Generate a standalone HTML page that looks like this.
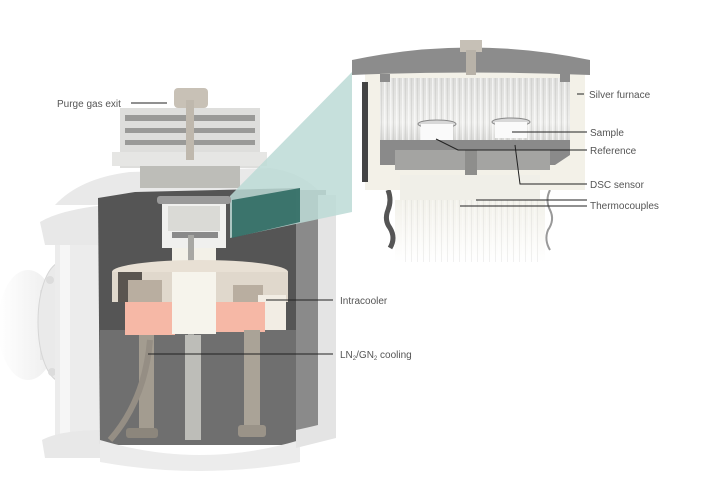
<!DOCTYPE html>
<html><head><meta charset="utf-8"><style>
html,body{margin:0;padding:0;background:#fff;}
svg{display:block;}
text{font-family:"Liberation Sans",sans-serif;font-size:10px;fill:#555;}
</style></head><body>
<svg width="715" height="482" viewBox="0 0 715 482" xmlns="http://www.w3.org/2000/svg">
<defs>
<linearGradient id="fib" x1="0" x2="0" y1="0" y2="1"><stop offset="0" stop-color="#dcdcda"/><stop offset="0.6" stop-color="#eeeeec"/><stop offset="1" stop-color="#c8c8c6"/></linearGradient>
<linearGradient id="neck" x1="0" x2="0" y1="0" y2="1"><stop offset="0" stop-color="#f2f1ea"/><stop offset="1" stop-color="#ffffff"/></linearGradient>
<linearGradient id="blob" x1="0" x2="1"><stop offset="0" stop-color="#fff"/><stop offset="1" stop-color="#ececec"/></linearGradient>
<pattern id="streak" width="6" height="10" patternUnits="userSpaceOnUse"><rect width="6" height="10" fill="none"/><rect x="0" width="1.5" height="10" fill="#ffffff" opacity="0.6"/><rect x="3" width="1" height="10" fill="#c8c8c6" opacity="0.5"/></pattern>
</defs>
<!-- left fitting blob -->
<ellipse cx="28" cy="325" rx="30" ry="55" fill="url(#blob)"/>
<rect x="40" y="290" width="35" height="70" fill="#e6e6e6"/>
<ellipse cx="62" cy="322" rx="24" ry="60" fill="#eaeaea" stroke="#d6d6d6"/>
<circle cx="50" cy="280" r="4" fill="#dcdcdc"/><circle cx="62" cy="330" r="4" fill="#dcdcdc"/><circle cx="52" cy="372" r="4" fill="#dcdcdc"/>
<!-- left body -->
<rect x="55" y="245" width="50" height="200" fill="#ececec"/>
<rect x="60" y="245" width="10" height="200" fill="#f6f6f6"/>
<path d="M40 222 Q60 210 105 205 L105 245 L45 245 Z" fill="#e8e8e8"/>
<path d="M42 440 Q60 430 105 430 L105 458 L45 458 Z" fill="#e8e8e8"/>
<!-- shoulder dome -->
<path d="M55 205 Q80 178 130 172 L270 168 Q300 172 318 190 L318 215 L100 205 Z" fill="#e9e9e9"/>
<!-- dark interior -->
<path d="M98 198 L135 192 L300 188 L300 445 L100 445 Z" fill="#555"/>
<rect x="100" y="330" width="200" height="115" fill="#6f6f6f"/>
<path d="M100 440 Q200 470 300 440 L300 462 Q200 480 100 462 Z" fill="#ececec"/>
<!-- right wall -->
<rect x="296" y="190" width="30" height="240" fill="#8a8a8a"/>
<rect x="318" y="195" width="18" height="235" fill="#e4e4e4"/>
<path d="M296 430 Q320 425 336 420 L336 438 L296 448 Z" fill="#e4e4e4"/>
<!-- lid -->
<rect x="120" y="108" width="140" height="60" fill="#dededc"/>
<rect x="125" y="115" width="130" height="6" fill="#9a9a98"/>
<rect x="125" y="128" width="130" height="5" fill="#9a9a98"/>
<rect x="125" y="140" width="130" height="5" fill="#9a9a98"/>
<rect x="112" y="152" width="155" height="14" fill="#e6e6e4"/>
<rect x="140" y="166" width="100" height="22" fill="#bdbdb8"/>
<rect x="174" y="88" width="34" height="20" rx="4" fill="#c8c1b6"/>
<rect x="186" y="100" width="8" height="60" fill="#bfb8ad"/>
<!-- teal cone -->
<polygon points="230,196 352,72 352,212 230,238" fill="#bcdad6" opacity="0.85"/>
<polygon points="232,200 300,188 300,222 232,238" fill="#2f6a63" opacity="0.9"/>
<!-- small furnace -->
<rect x="157" y="196" width="74" height="8" rx="3" fill="#9a9a9a"/>
<rect x="162" y="204" width="64" height="44" fill="#f0f0ee"/>
<rect x="168" y="206" width="52" height="25" fill="#dadad6"/>
<rect x="172" y="232" width="46" height="6" fill="#8a8a8a"/>
<rect x="172" y="248" width="44" height="85" fill="#f3f1e8"/>
<rect x="188" y="235" width="6" height="200" fill="#a8a8a4"/>
<!-- intracooler -->
<ellipse cx="200" cy="272" rx="88" ry="12" fill="#e8e0d4"/>
<rect x="112" y="272" width="176" height="30" fill="#e0d8cc"/>
<rect x="118" y="272" width="24" height="30" fill="#5a5550"/>
<rect x="128" y="280" width="34" height="22" fill="#b9aea0"/>
<rect x="233" y="285" width="30" height="17" fill="#b9aea0"/>
<rect x="258" y="295" width="28" height="35" fill="#f2ede4"/>
<rect x="125" y="302" width="50" height="33" fill="#f6b8a6"/>
<rect x="210" y="302" width="55" height="30" fill="#f6b8a6"/>
<rect x="172" y="272" width="44" height="62" fill="#f6f4ec"/>
<!-- pipes -->
<rect x="139" y="335" width="15" height="95" fill="#a39c90"/>
<path d="M150 340 Q145 400 110 440" stroke="#958e84" stroke-width="6" fill="none"/>
<rect x="244" y="330" width="16" height="100" fill="#aaa397"/>
<rect x="126" y="428" width="32" height="10" rx="3" fill="#8c867c"/>
<rect x="238" y="425" width="28" height="12" rx="3" fill="#9a9388"/>
<rect x="185" y="335" width="16" height="105" fill="#bdbdb8"/>
<!-- big furnace -->
<path d="M395 200 L545 200 L545 262 L395 262 Z" fill="url(#neck)"/>
<rect x="400" y="200" width="140" height="62" fill="url(#streak)" opacity="0.5"/>
<path d="M388 190 Q392 200 388 210 Q384 220 390 228 Q396 238 390 248" stroke="#555" stroke-width="5" fill="none"/>
<path d="M550 190 Q545 200 550 210 Q555 220 548 230 Q544 240 550 250" stroke="#999" stroke-width="2" fill="none"/>
<rect x="365" y="70" width="220" height="120" fill="#f3f1e8"/>
<rect x="380" y="78" width="190" height="75" fill="url(#fib)"/>
<rect x="380" y="78" width="190" height="75" fill="url(#streak)"/>
<rect x="362" y="82" width="6" height="100" fill="#444"/>
<path d="M352 60 Q470 35 590 60 L590 75 Q470 70 352 75 Z" fill="#8c8c8c"/>
<rect x="380" y="74" width="10" height="8" fill="#8c8c8c"/><rect x="560" y="74" width="10" height="8" fill="#8c8c8c"/>
<rect x="460" y="40" width="22" height="12" fill="#c6c0b6"/>
<rect x="466" y="50" width="10" height="25" fill="#b8b2a8"/>
<path d="M380 140 L570 140 L570 155 L555 165 L380 165 Z" fill="#8a8a8a"/>
<path d="M395 150 L550 150 L550 170 L395 170 Z" fill="#a4a4a2"/>
<rect x="465" y="150" width="12" height="45" fill="#8e8e8c"/>
<ellipse cx="437" cy="124" rx="19" ry="4" fill="#d8d8d8" stroke="#888"/>
<rect x="421" y="124" width="32" height="16" fill="#fafafa"/>
<ellipse cx="511" cy="122" rx="19" ry="4" fill="#d8d8d8" stroke="#888"/>
<rect x="495" y="122" width="32" height="16" fill="#fafafa"/>
<rect x="400" y="175" width="140" height="25" fill="#f0efe8"/>
<!-- leader lines -->
<g stroke="#222" stroke-width="1" fill="none">
<line x1="131" y1="103" x2="167" y2="103"/>
<line x1="577" y1="94" x2="584" y2="94"/>
<line x1="512" y1="132" x2="587" y2="132"/>
<polyline points="436,139 458,150 587,150"/>
<polyline points="515,145 520,184 587,184"/>
<line x1="476" y1="200" x2="587" y2="200"/>
<line x1="460" y1="206" x2="587" y2="206"/>
<line x1="266" y1="300" x2="333" y2="300"/>
<line x1="148" y1="354" x2="333" y2="354"/>
</g>
<text x="57" y="107">Purge gas exit</text>
<text x="589" y="98">Silver furnace</text>
<text x="590" y="136">Sample</text>
<text x="590" y="154">Reference</text>
<text x="590" y="188">DSC sensor</text>
<text x="590" y="209">Thermocouples</text>
<text x="340" y="304">Intracooler</text>
<text x="340" y="358">LN<tspan font-size="6" dy="2">2</tspan><tspan dy="-2">/GN</tspan><tspan font-size="6" dy="2">2</tspan><tspan dy="-2"> cooling</tspan></text>
</svg>
</body></html>
